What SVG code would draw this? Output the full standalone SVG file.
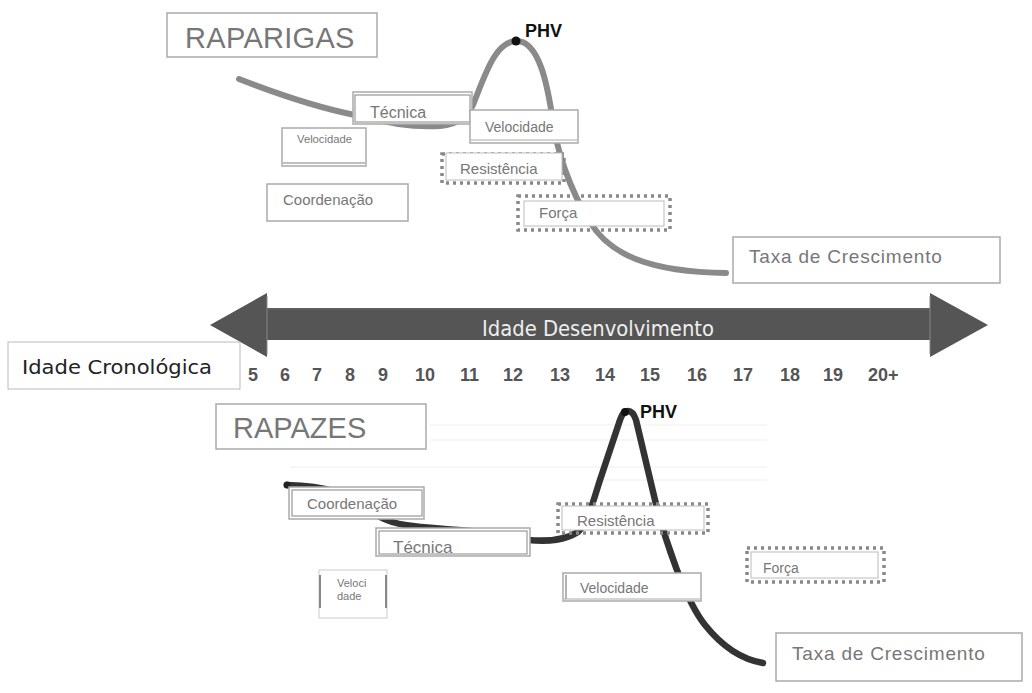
<svg xmlns="http://www.w3.org/2000/svg" width="1032" height="693" viewBox="0 0 1032 693">
<style>
.t{font-family:"Liberation Sans",Arial,sans-serif;fill:#777}
.box{fill:#fff;stroke:#aaa;stroke-width:1.5}
.box2{fill:none;stroke:#999;stroke-width:1.2}
.dot{fill:none;stroke:#888;stroke-width:3.5;stroke-dasharray:3 4}
.in{fill:#fff;stroke:#bbb;stroke-width:1}
.num{font-family:"Liberation Sans",Arial,sans-serif;font-size:18px;font-weight:bold;fill:#555}
.faint{stroke:#eee;stroke-width:1}
</style>
<rect width="1032" height="693" fill="#fff"/>

<g id="faint-lines">
<line class="faint" x1="430" y1="425" x2="767" y2="425"/>
<line class="faint" x1="430" y1="440" x2="767" y2="440"/>
<line class="faint" x1="290" y1="467" x2="767" y2="467"/>
<line class="faint" x1="600" y1="480" x2="767" y2="480"/>
</g>

<g id="connectors">
<path d="M239,79 C280,95 320,108 355,115 C385,122 410,128 440,126 C460,124 468,115 473,105 C485,75 495,42 516,41 C540,40 548,90 552,115 C556,150 570,190 590,222 C610,255 650,272 726,273" fill="none" stroke="#8a8a8a" stroke-width="6" stroke-linecap="round"/>
<circle cx="516" cy="41" r="4.5" fill="#111"/>
<path d="M287,485 C320,486 350,490 380,517 C400,528 430,527 470,531 L528,540 C550,542 565,540 578,532 C588,522 592,505 600,480 L620,420 C624,408 632,408 636,420 L655,500 C665,540 685,600 705,625 C725,650 745,660 763,663" fill="none" stroke="#333" stroke-width="6.5" stroke-linecap="round"/>
<circle cx="625" cy="412" r="4" fill="#111"/>
<circle cx="287" cy="485" r="3.5" fill="#222"/>
</g>

<g id="arrow">
<polygon points="210,325 267,293 267,308 930,308 930,293 988,325 930,357 930,340 267,340 267,357" fill="#555"/>
<line x1="267" y1="296" x2="267" y2="354" stroke="#888" stroke-width="1"/>
<line x1="930" y1="296" x2="930" y2="354" stroke="#888" stroke-width="1"/>
<line x1="268" y1="309" x2="929" y2="309" stroke="#6a6a6a" stroke-width="1"/>
<text x="598" y="336" text-anchor="middle" font-family="'Liberation Sans Narrow','DejaVu Sans Condensed','Liberation Sans',sans-serif" font-size="21" fill="#eee" textLength="232" lengthAdjust="spacingAndGlyphs">Idade Desenvolvimento</text>
</g>

<g id="raparigas">
<rect class="box" x="167" y="13" width="210" height="44"/>
<text class="t" x="185" y="48" font-size="29" letter-spacing="0.3">RAPARIGAS</text>
</g>
<g id="phv-top"><text x="525" y="37" font-family="'Liberation Sans',Arial,sans-serif" font-size="18" font-weight="bold" fill="#111">PHV</text></g>

<g id="tecnica-top">
<rect class="box" x="353" y="92" width="119" height="32"/>
<rect class="box2" x="355" y="95" width="115" height="27"/>
<text class="t" x="370" y="118" font-size="16">Técnica</text>
</g>
<g id="velocidade-top">
<rect class="box" x="470" y="110" width="108" height="33"/>
<line x1="471" y1="140" x2="577" y2="140" stroke="#aaa" stroke-width="1"/>
<text class="t" x="485" y="132" font-size="14">Velocidade</text>
</g>
<g id="velocidade-small-top">
<rect class="box" x="282" y="128" width="84" height="38"/>
<line x1="283" y1="163" x2="365" y2="163" stroke="#aaa" stroke-width="1.5"/>
<text class="t" x="297" y="143" font-size="10" fill="#777" textLength="55" lengthAdjust="spacingAndGlyphs">Velocidade</text>
</g>
<g id="coordenacao-top">
<rect class="box" x="267" y="184" width="141" height="37"/>
<text class="t" x="283" y="205" font-size="15">Coordenação</text>
</g>
<g id="resistencia-top">
<rect class="dot" x="442" y="154" width="122" height="29"/>
<rect class="in" x="446" y="153" width="116" height="27"/>
<text class="t" x="460" y="174" font-size="15">Resistência</text>
</g>
<g id="forca-top">
<rect class="dot" x="518" y="196" width="152" height="34"/>
<rect class="in" x="524" y="201" width="140" height="25"/>
<text class="t" x="539" y="218" font-size="15">Força</text>
</g>
<g id="taxa-top">
<rect class="box" x="733" y="237" width="267" height="46"/>
<text class="t" x="749" y="263" font-size="19" letter-spacing="0.8">Taxa de Crescimento</text>
</g>

<g id="idade-cronologica">
<rect x="8" y="342" width="232" height="47" fill="#fff" stroke="#bbb" stroke-width="1"/>
<text x="22" y="374" font-family="'Liberation Sans Narrow','DejaVu Sans Condensed','Liberation Sans',sans-serif" font-size="20" fill="#222" textLength="190" lengthAdjust="spacingAndGlyphs">Idade Cronológica</text>
</g>

<g id="ages">
<text class="num" x="248" y="381">5</text>
<text class="num" x="280" y="381">6</text>
<text class="num" x="312" y="381">7</text>
<text class="num" x="345" y="381">8</text>
<text class="num" x="378" y="381">9</text>
<text class="num" x="415" y="381">10</text>
<text class="num" x="460" y="381">11</text>
<text class="num" x="503" y="381">12</text>
<text class="num" x="550" y="381">13</text>
<text class="num" x="595" y="381">14</text>
<text class="num" x="640" y="381">15</text>
<text class="num" x="687" y="381">16</text>
<text class="num" x="733" y="381">17</text>
<text class="num" x="780" y="381">18</text>
<text class="num" x="823" y="381">19</text>
<text class="num" x="868" y="381">20+</text>
</g>

<g id="rapazes">
<rect class="box" x="216" y="404" width="210" height="45"/>
<text class="t" x="233" y="438" font-size="29">RAPAZES</text>
</g>
<g id="phv-bottom"><text x="640" y="418" font-family="'Liberation Sans',Arial,sans-serif" font-size="18" font-weight="bold" fill="#111">PHV</text></g>

<g id="coordenacao-bottom">
<rect class="box" x="289" y="487" width="135" height="32" stroke="#999"/>
<rect class="box2" x="292" y="490" width="130" height="26"/>
<text class="t" x="307" y="509" font-size="15" fill="#888">Coordenação</text>
</g>
<g id="tecnica-bottom">
<rect class="box" x="376" y="528" width="154" height="28" stroke="#999"/>
<rect class="box2" x="379" y="531" width="148" height="23"/>
<text class="t" x="393" y="553" font-size="17" fill="#888">Técnica</text>
</g>
<g id="resistencia-bottom">
<rect class="dot" x="558" y="504" width="150" height="29"/>
<rect class="in" x="562" y="506" width="142" height="24"/>
<text class="t" x="577" y="526" font-size="15" fill="#888">Resistência</text>
</g>
<g id="velocidade-bottom">
<rect class="box" x="563" y="573" width="138" height="28" stroke="#999"/>
<line x1="566" y1="575" x2="566" y2="599" stroke="#999" stroke-width="1.5"/>
<line x1="564" y1="599" x2="700" y2="599" stroke="#aaa" stroke-width="1"/>
<text class="t" x="580" y="593" font-size="14" fill="#888">Velocidade</text>
</g>
<g id="forca-bottom">
<rect class="dot" x="747" y="548" width="137" height="34"/>
<rect class="in" x="751" y="552" width="127" height="26"/>
<text class="t" x="763" y="573" font-size="14" fill="#888">Força</text>
</g>
<g id="veloci-dade-bottom">
<rect x="319" y="570" width="68" height="48" fill="#fff" stroke="#ccc" stroke-width="1"/>
<line x1="320" y1="575" x2="320" y2="608" stroke="#888" stroke-width="2"/>
<line x1="386" y1="575" x2="386" y2="608" stroke="#888" stroke-width="2"/>
<text class="t" x="337" y="587" font-size="11" fill="#888">Veloci</text>
<text class="t" x="337" y="600" font-size="11" fill="#888">dade</text>
</g>
<g id="taxa-bottom">
<rect class="box" x="776" y="633" width="246" height="48" stroke="#bbb"/>
<text class="t" x="792" y="660" font-size="19" letter-spacing="0.8">Taxa de Crescimento</text>
</g>
</svg>
